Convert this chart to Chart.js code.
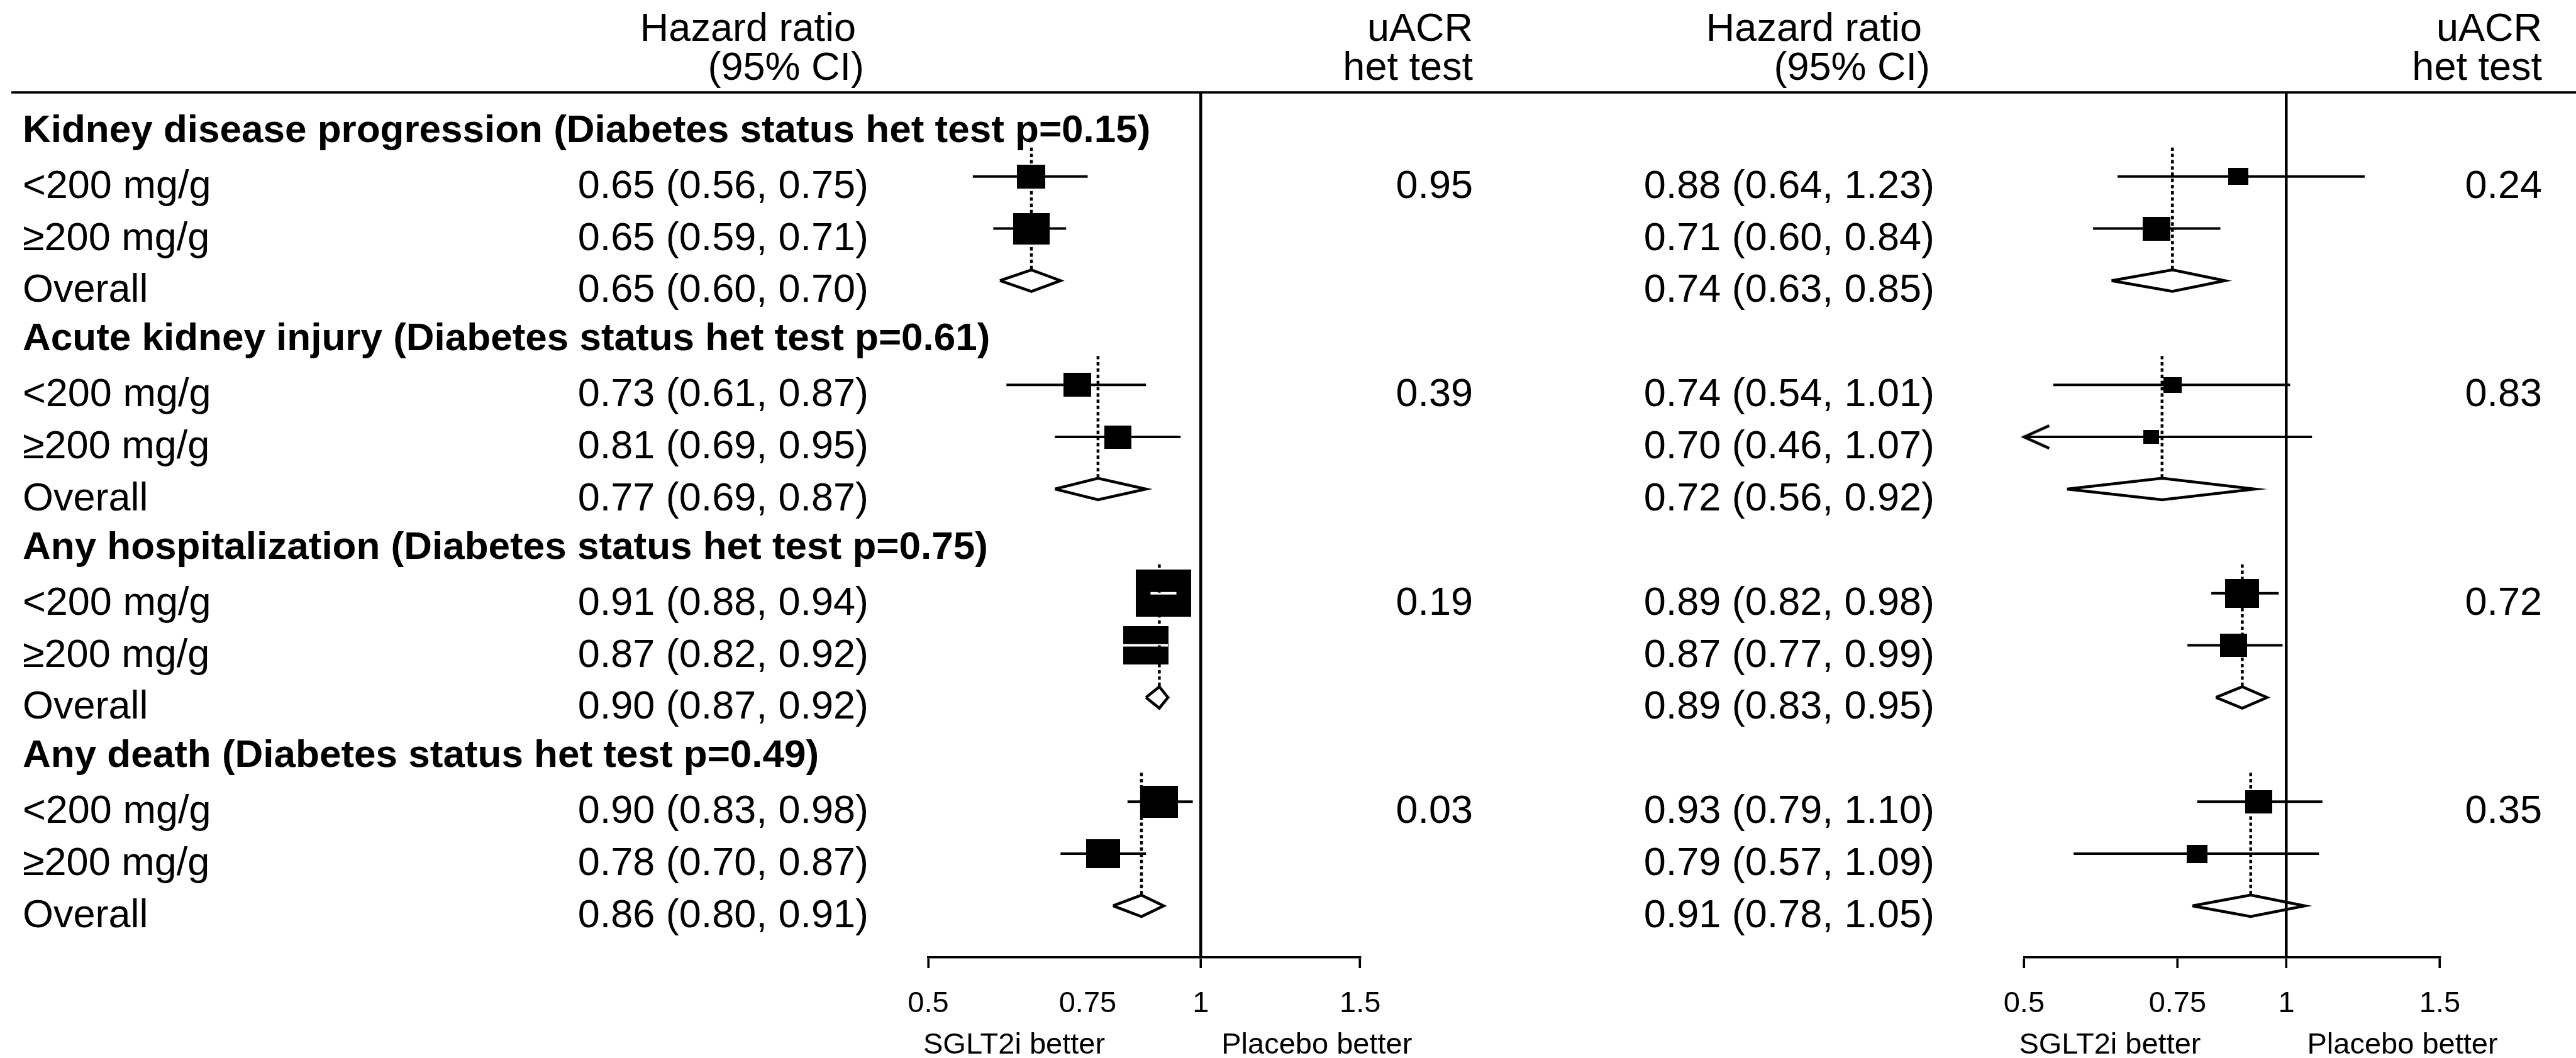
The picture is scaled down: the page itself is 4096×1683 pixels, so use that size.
<!DOCTYPE html>
<html>
<head>
<meta charset="utf-8">
<script src="https://cdn.jsdelivr.net/npm/chart.js@4"></script>
<style>
  html, body { margin: 0; padding: 0; background: #fff; }
  canvas { position: absolute; left: 0; top: 0; }
</style>
</head>
<body>
<canvas id="leftPanel" width="4096" height="1683"></canvas>
<canvas id="rightPanel" width="4096" height="1683"></canvas>
<script>
// outcomes, subgroup labels, axis ticks
const outcomes = ['Kidney disease progression', 'Acute kidney injury', 'Any hospitalization', 'Any death'];
const diabetesHetP = ['0.15', '0.61', '0.75', '0.49'];
const subgroups = ['<200 mg/g', '\u2265200 mg/g', 'Overall'];
const tickValues = [0.5, 0.75, 1, 1.5];

// left panel, per outcome: <200, >=200, overall
const leftHR     = [0.65, 0.65, 0.65, 0.73, 0.81, 0.77, 0.91, 0.87, 0.90, 0.90, 0.78, 0.86];
const leftLow    = [0.56, 0.59, 0.60, 0.61, 0.69, 0.69, 0.88, 0.82, 0.87, 0.83, 0.70, 0.80];
const leftHigh   = [0.75, 0.71, 0.70, 0.87, 0.95, 0.87, 0.94, 0.92, 0.92, 0.98, 0.87, 0.91];
const leftWeight = [0.51, 0.66, null, 0.50, 0.49, null, 1.00, 0.82, null, 0.68, 0.61, null];
const leftUacrP  = ['0.95', '0.39', '0.19', '0.03'];

// right panel
const rightHR     = [0.88, 0.71, 0.74, 0.74, 0.70, 0.72, 0.89, 0.87, 0.89, 0.93, 0.79, 0.91];
const rightLow    = [0.64, 0.60, 0.63, 0.54, 0.46, 0.56, 0.82, 0.77, 0.83, 0.79, 0.57, 0.78];
const rightHigh   = [1.23, 0.84, 0.85, 1.01, 1.07, 0.92, 0.98, 0.99, 0.95, 1.10, 1.09, 1.05];
const rightWeight = [0.36, 0.50, null, 0.33, 0.29, null, 0.61, 0.49, null, 0.49, 0.38, null];
const rightUacrP  = ['0.24', '0.83', '0.72', '0.35'];

// layout (px)
const W = 4096, H = 1683;
const FONT = '"Liberation Sans", Arial, Helvetica, sans-serif';
const FS = 63, FS_TICK = 47;
const LABEL_X = 36, RULE_Y = 147, HEAD1_Y = 64.6, HEAD2_Y = 127.4;
const AXIS_Y = 1523, AXIS_H = 130, BETTER_Y = 1675.6;
const ROW_MIN = -0.613, ROW_MAX = 15.99;
const BOX_MAX = 75, BOX_ASPECT = 1.17, DIAMOND_H = 0.206, GUIDE_TOP = 0.445;
const X_MIN = 0.5, X_MAX = 1.5;

Chart.defaults.font.family = FONT;

const panels = [
  { id: 'leftPanel', hr: leftHR, low: leftLow, high: leftHigh, weight: leftWeight, uacr: leftUacrP,
    x0: 1476, x1: 2162.7, hrRight: 1381, uacrRight: 2342, labels: true, midTick: false },
  { id: 'rightPanel', hr: rightHR, low: rightLow, high: rightHigh, weight: rightWeight, uacr: rightUacrP,
    x0: 3218.4, x1: 3879.5, hrRight: 3076, uacrRight: 4042, labels: false, midTick: true }
];

function rowOf(k) {
  return Math.floor(k / 3) * 4 + (k % 3) + 1;
}

const boxCache = {};
function boxImage(w) {
  if (boxCache[w]) return boxCache[w];
  const h = Math.round(w * BOX_MAX), wd = Math.round(w * BOX_MAX * BOX_ASPECT);
  const cv = document.createElement('canvas');
  cv.width = wd; cv.height = h;
  const g = cv.getContext('2d');
  g.fillStyle = '#000';
  g.fillRect(0, 0, wd, h);
  boxCache[w] = cv;
  return cv;
}

function arrowImage() {
  const dx = 40, dy = 18, lw = 4.5;
  const cv = document.createElement('canvas');
  cv.width = 2 * (dx + lw); cv.height = 2 * (dy + lw);
  const cx = cv.width / 2, cy = cv.height / 2;
  const g = cv.getContext('2d');
  g.strokeStyle = '#000'; g.lineWidth = lw; g.lineJoin = 'miter';
  g.beginPath();
  g.moveTo(cx + dx, cy - dy); g.lineTo(cx, cy); g.lineTo(cx + dx, cy + dy);
  g.stroke();
  return cv;
}

function fmt(v) { return v.toFixed(2); }

function makeTable(p) {
  return {
    id: 'table',
    afterDraw(chart) {
      const c = chart.ctx, ys = chart.scales.y, xs = chart.scales.x;
      c.save();
      c.fillStyle = '#000';
      c.textBaseline = 'alphabetic';
      c.font = FS + 'px ' + FONT;
      c.textAlign = 'right';
      c.fillText('Hazard ratio', p.hrRight - 20, HEAD1_Y);
      c.fillText('(95% CI)', p.hrRight - 7, HEAD2_Y);
      c.fillText('uACR', p.uacrRight, HEAD1_Y);
      c.fillText('het test', p.uacrRight, HEAD2_Y);

      outcomes.forEach((name, g) => {
        if (p.labels) {
          c.font = 'bold ' + (FS - 1) + 'px ' + FONT;
          c.textAlign = 'left';
          c.fillText(name + ' (Diabetes status het test p=' + diabetesHetP[g] + ')', LABEL_X, ys.getPixelForValue(g * 4) + 27.8);
        }
        c.font = FS + 'px ' + FONT;
        for (let j = 0; j < 3; j++) {
          const k = g * 3 + j;
          const ry = ys.getPixelForValue(rowOf(k)) + 34;
          if (p.labels) {
            c.textAlign = 'left';
            c.fillText(subgroups[j], LABEL_X, ry);
          }
          c.textAlign = 'right';
          c.fillText(fmt(p.hr[k]) + ' (' + fmt(p.low[k]) + ', ' + fmt(p.high[k]) + ')', p.hrRight, ry);
        }
        c.fillText(p.uacr[g], p.uacrRight, ys.getPixelForValue(g * 4 + 1) + 34);
      });

      c.font = FS_TICK + 'px ' + FONT;
      c.textAlign = 'left';
      c.fillText('SGLT2i better', xs.getPixelForValue(X_MIN) - 8, BETTER_Y);
      c.fillText('Placebo better', xs.getPixelForValue(1) + 33, BETTER_Y);

      if (p.labels) {
        c.fillRect(18, RULE_Y - 1.8, W - 18, 3.6);
      }
      c.restore();
    }
  };
}

function buildChart(p) {
  const gap = { x: null, y: null };
  const ci = [], boxes = [], diamonds = [], guides = [], arrows = [];
  p.hr.forEach((hr, k) => {
    const row = rowOf(k);
    if (k % 3 === 2) {
      diamonds.push({ x: p.low[k], y: row }, { x: hr, y: row - DIAMOND_H }, { x: p.high[k], y: row },
                    { x: hr, y: row + DIAMOND_H }, { x: p.low[k], y: row }, gap);
      guides.push({ x: hr, y: row - 3 + GUIDE_TOP }, { x: hr, y: row - DIAMOND_H }, gap);
    } else {
      ci.push({ x: p.low[k], y: row, w: p.weight[k] }, { x: p.high[k], y: row, w: p.weight[k] }, gap);
      boxes.push({ x: hr, y: row, w: p.weight[k] });
      if (p.low[k] < X_MIN) arrows.push({ x: X_MIN, y: row });
    }
  });

  const line = { type: 'line', showLine: true, pointRadius: 0, pointHoverRadius: 0, fill: false,
                 tension: 0, spanGaps: false, borderColor: '#000', borderCapStyle: 'butt' };
  const arrow = arrowImage();

  return new Chart(document.getElementById(p.id), {
    type: 'line',
    data: {
      datasets: [
        Object.assign({}, line, { data: guides, order: 0, borderWidth: 4.5, borderDash: [5.4, 4.5] }),
        { type: 'line', showLine: false, data: arrows, order: 1, pointStyle: arrow, pointRadius: 3, clip: false },
        Object.assign({}, line, {
          data: ci, order: 2, borderWidth: 4,
          segment: {
            // CI that fits inside its box is drawn in white
            borderColor: s => {
              const w = ci[s.p0DataIndex].w;
              return (s.p1.x - s.p0.x) <= w * BOX_MAX * BOX_ASPECT + 4 ? '#fff' : '#000';
            }
          }
        }),
        { type: 'line', showLine: false, data: boxes, order: 3, pointRadius: 3, clip: false,
          pointStyle: c => boxImage(c.raw.w) },
        Object.assign({}, line, { data: diamonds, order: 4, borderWidth: 4.5, borderJoinStyle: 'miter' })
      ]
    },
    options: {
      responsive: false,
      animation: false,
      devicePixelRatio: 1,
      events: [],
      layout: { padding: { left: p.x0, right: W - p.x1, top: RULE_Y, bottom: H - AXIS_Y - AXIS_H } },
      plugins: { legend: { display: false }, tooltip: { enabled: false } },
      scales: {
        x: {
          type: 'logarithmic', min: X_MIN, max: X_MAX, bounds: 'data',
          afterBuildTicks: s => { s.ticks = tickValues.map(v => ({ value: v })); },
          afterFit: s => { s.height = AXIS_H; },
          ticks: { autoSkip: false, maxRotation: 0, minRotation: 0, padding: 29, color: '#000',
                   font: { family: FONT, size: FS_TICK }, callback: v => String(v) },
          grid: {
            drawOnChartArea: true, drawTicks: true, tickLength: 17, tickWidth: 3.6, lineWidth: 4.5,
            color: c => (c.tick && c.tick.value === 1) ? '#000' : 'rgba(0,0,0,0)',
            tickColor: c => (!p.midTick && c.tick && c.tick.value === 0.75) ? 'rgba(0,0,0,0)' : '#000'
          },
          border: { display: true, color: '#000', width: 3.6 }
        },
        y: { type: 'linear', reverse: true, min: ROW_MIN, max: ROW_MAX, bounds: 'data', display: false }
      }
    },
    plugins: [makeTable(p)]
  });
}

panels.forEach(buildChart);
</script>
</body>
</html>
